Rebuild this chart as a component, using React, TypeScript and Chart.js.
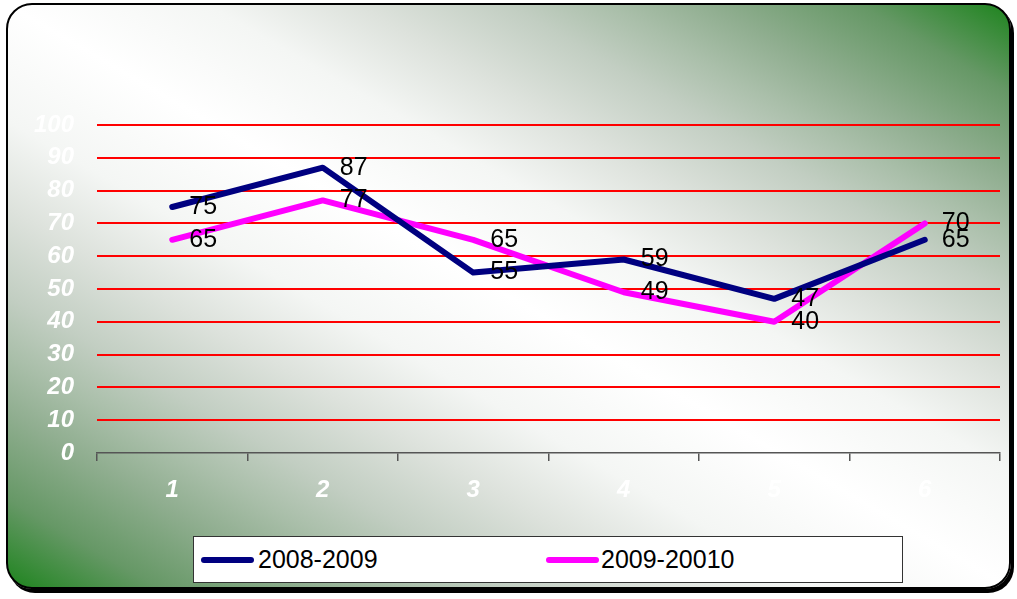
import React, { useEffect, useRef } from "react";
import { Chart, registerables } from "chart.js";

Chart.register(...registerables);

const categories = ["1", "2", "3", "4", "5", "6"];
const series1Name = "2008-2009";
const series1Values = [75, 87, 55, 59, 47, 65];
const series2Name = "2009-20010";
const series2Values = [65, 77, 65, 49, 40, 70];
const yTicks = [0, 10, 20, 30, 40, 50, 60, 70, 80, 90, 100];

const FONT = "'Liberation Sans', Arial, sans-serif";
const NAVY = "#000080";
const MAGENTA = "#FF00FF";

const BG_GRADIENT =
  "linear-gradient(to bottom left, #1e841e 0%, #669866 7.5%, #90ae90 15%, #aabfaa 20%, #c2cec2 25%, #dde2dc 32.5%, #f4f6f4 40%, #ffffff 50%, #f4f6f4 60%, #dde2dc 67.5%, #c2cec2 75%, #aabfaa 80%, #90ae90 85%, #669866 92.5%, #1e841e 100%)";

const dataLabelPlugin = {
  id: "dataLabels",
  afterDatasetsDraw(chart: any) {
    const ctx = chart.ctx;
    ctx.save();
    ctx.font = `25px ${FONT}`;
    ctx.fillStyle = "#000";
    ctx.textAlign = "left";
    ctx.textBaseline = "middle";
    chart.data.datasets.forEach((ds: any, i: number) => {
      const meta = chart.getDatasetMeta(i);
      meta.data.forEach((pt: any, j: number) => {
        ctx.fillText(String(ds.data[j]), pt.x + 17, pt.y);
      });
    });
    ctx.restore();
  },
};

export default function App() {
  const ref = useRef<HTMLCanvasElement>(null);

  useEffect(() => {
    document.body.style.margin = "0";
    const chart = new Chart(ref.current!, {
      type: "line",
      data: {
        labels: categories,
        datasets: [
          {
            label: series1Name,
            data: series1Values,
            borderColor: NAVY,
            backgroundColor: NAVY,
            borderWidth: 6,
            pointRadius: 0,
            tension: 0,
            borderCapStyle: "round",
            borderJoinStyle: "round",
          },
          {
            label: series2Name,
            data: series2Values,
            borderColor: MAGENTA,
            backgroundColor: MAGENTA,
            borderWidth: 6,
            pointRadius: 0,
            tension: 0,
            borderCapStyle: "round",
            borderJoinStyle: "round",
          },
        ],
      },
      options: {
        animation: false,
        responsive: false,
        layout: { padding: { left: 0, top: 125, right: 17, bottom: 0 } },
        plugins: {
          legend: { display: false },
          tooltip: { enabled: false },
        },
        scales: {
          x: {
            offset: true,
            grid: {
              offset: true,
              drawOnChartArea: false,
              drawTicks: true,
              tickLength: 8,
              color: "#555",
              lineWidth: 1.5,
            },
            border: { display: true, color: "#555", width: 1.5 },
            ticks: {
              color: "#ffffff",
              padding: 15,
              font: { family: FONT, size: 24, weight: "bold", style: "italic" },
            },
            afterFit: (s: any) => {
              s.height = 146;
            },
          },
          y: {
            min: 0,
            max: 100,
            afterBuildTicks: (s: any) => {
              s.ticks = yTicks.map((v) => ({ value: v }));
            },
            grid: {
              drawTicks: false,
              tickLength: 0,
              color: (c: any) => (c.tick && c.tick.value === 0 ? "rgba(0,0,0,0)" : "#ff0000"),
              lineWidth: 2,
            },
            border: { display: false },
            ticks: {
              color: "#ffffff",
              padding: 23,
              font: { family: FONT, size: 24, weight: "bold", style: "italic" },
            },
            afterFit: (s: any) => {
              s.width = 97;
            },
          },
        },
      },
      plugins: [dataLabelPlugin],
    } as any);
    return () => chart.destroy();
  }, []);

  const legendText: React.CSSProperties = {
    position: "absolute",
    top: 0,
    height: 45,
    lineHeight: "45px",
    fontFamily: FONT,
    fontSize: 25,
    color: "#000",
    whiteSpace: "nowrap",
  };
  const swatch: React.CSSProperties = {
    position: "absolute",
    top: 20,
    width: 53,
    height: 6,
    borderRadius: 3,
  };

  return (
    <div style={{ position: "fixed", left: 0, top: 0, width: 1017, height: 599, overflow: "hidden" }}>
      <div
        style={{
          position: "absolute",
          left: 6,
          top: 3,
          width: 1005,
          height: 586,
          boxSizing: "border-box",
          border: "2px solid #000",
          borderRadius: 26,
          background: BG_GRADIENT,
          boxShadow: "3px 4px 0 #000",
        }}
      />
      <canvas ref={ref} width={1017} height={599} style={{ position: "absolute", left: 0, top: 0 }} />
      <div
        style={{
          position: "absolute",
          left: 193,
          top: 536,
          width: 710,
          height: 47,
          boxSizing: "border-box",
          border: "1px solid #333",
          background: "#fff",
        }}
      >
        <div style={{ ...swatch, left: 7, background: NAVY }} />
        <div style={{ ...legendText, left: 64 }}>{series1Name}</div>
        <div style={{ ...swatch, left: 352, background: MAGENTA }} />
        <div style={{ ...legendText, left: 407 }}>{series2Name}</div>
      </div>
    </div>
  );
}
